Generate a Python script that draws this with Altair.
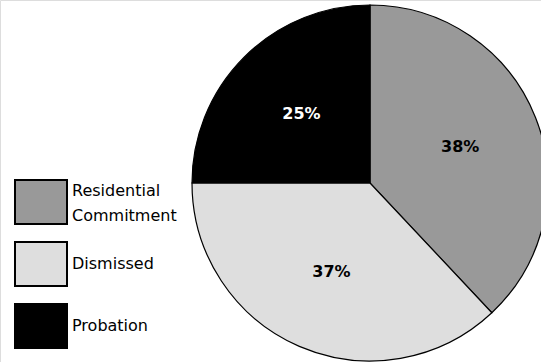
import altair as alt
import pandas as pd

categories = ["Residential Commitment", "Dismissed", "Probation"]
legend_labels = ["Residential\nCommitment", "Dismissed", "Probation"]
legend_lines = [2, 1, 1]
values = [38, 37, 25]
labels = ["38%", "37%", "25%"]
colors = ["#999999", "#dedede", "#000000"]

df = pd.DataFrame({"category": categories, "value": values, "label": labels,
                   "order": [0, 1, 2], "legend": legend_labels, "lines": legend_lines})

color_scale = alt.Scale(domain=categories, range=colors)
cx, cy, R = 370, 183, 178

base = alt.Chart(df)

arcs = base.mark_arc(outerRadius=R, stroke="black", strokeWidth=1.2).encode(
    theta=alt.Theta("value:Q", stack=True),
    order=alt.Order("order:Q"),
    color=alt.Color("category:N", scale=color_scale, legend=None),
    x=alt.value(cx), y=alt.value(cy),
)

texts = base.mark_text(radius=97, font="DejaVu Sans", fontSize=16, fontWeight="bold").encode(
    theta=alt.Theta("value:Q", stack=True),
    order=alt.Order("order:Q"),
    text="label:N",
    color=alt.condition(alt.datum.category == "Probation", alt.value("white"), alt.value("black")),
    x=alt.value(cx), y=alt.value(cy),
)

yscale = alt.Scale(domain=categories, range=[180, 348], paddingInner=0.29, paddingOuter=0)

leg_rects = base.mark_rect(stroke="black", strokeWidth=2).encode(
    y=alt.Y("category:N", scale=yscale, axis=None, sort=categories),
    x=alt.value(15), x2=alt.value(67),
    color=alt.Color("category:N", scale=color_scale, legend=None),
)

def leg_text_layer(nlines, dy):
    return base.transform_filter(alt.datum.lines == nlines).mark_text(
        align="left", baseline="middle", font="DejaVu Sans", fontSize=16,
        lineBreak="\n", lineHeight=25, dy=dy).encode(
        y=alt.Y("category:N", scale=yscale, axis=None, sort=categories, bandPosition=0.5),
        x=alt.value(72),
        text="legend:N",
        color=alt.value("black"),
    )

chart = alt.layer(arcs, texts, leg_rects, leg_text_layer(1, 0), leg_text_layer(2, -11)).properties(
    width=541, height=362, autosize=alt.AutoSizeParams(type="none"), padding=0
).configure_view(stroke=None).configure(background="white")

chart.save("out.html", embed_options={"renderer": "svg", "actions": False})
